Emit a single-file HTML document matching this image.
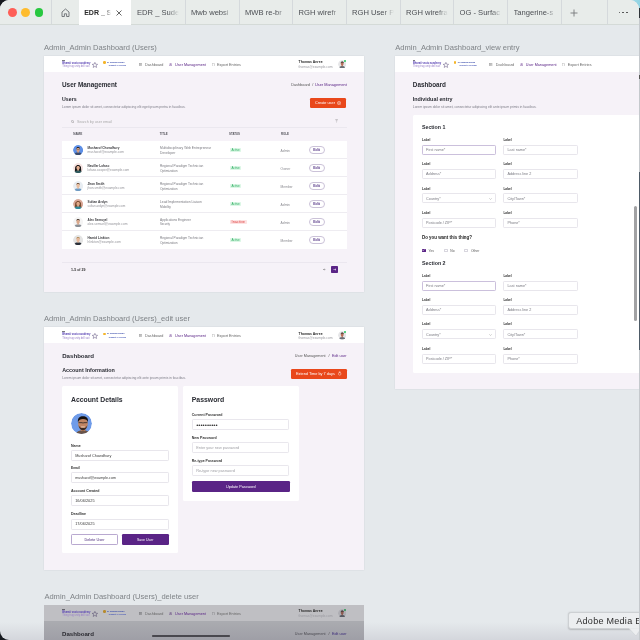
<!DOCTYPE html>
<html><head><meta charset="utf-8"><style>
html,body{margin:0;padding:0;}
body{width:640px;height:640px;overflow:hidden;background:#c5c9cd;position:relative;font-family:"Liberation Sans",sans-serif;}
.bk{position:absolute;}
#w{position:absolute;left:0;top:0;width:639px;height:640px;border-radius:9px 9px 0 9px;background:#e5e9ec;overflow:hidden;will-change:transform;filter:blur(0.3px);}
#w>div,#w>svg,#w>span{position:absolute;}
.t{white-space:pre;line-height:1;}
</style></head><body>
<div class="bk" style="left:0;top:0;width:14px;height:14px;background:#161a1f"></div>
<div class="bk" style="left:0;top:626px;width:14px;height:14px;background:#161a1f"></div>
<div class="bk" style="left:624px;top:0;width:16px;height:10px;background:linear-gradient(90deg,#b9dfe6,#8fd3e3)"></div>
<div class="bk" style="left:639px;top:8px;width:1px;height:10px;background:#2e3338"></div>
<div class="bk" style="left:639px;top:172px;width:1px;height:178px;background:#4d5a66"></div>
<div class="bk" style="left:639px;top:75px;width:1px;height:4px;background:#555"></div>
<div id="w">
<div style="left:0.00px;top:0.00px;width:640.00px;height:24.00px;background:#e8ecea;border-radius:0px;"></div>
<div style="left:0.00px;top:24.00px;width:640.00px;height:0.80px;background:#d4dad7;border-radius:0px;"></div>
<div style="left:8.25px;top:8.25px;width:8.50px;height:8.50px;background:#fe5f57;border-radius:5px;"></div>
<div style="left:21.35px;top:8.25px;width:8.50px;height:8.50px;background:#febc2e;border-radius:5px;"></div>
<div style="left:34.75px;top:8.25px;width:8.50px;height:8.50px;background:#28c840;border-radius:5px;"></div>
<div style="left:51.10px;top:0.00px;width:0.80px;height:24.00px;background:#d5d9dc;border-radius:0px;"></div>
<div style="left:184.60px;top:0.00px;width:0.80px;height:24.00px;background:#d5d9dc;border-radius:0px;"></div>
<div style="left:239.10px;top:0.00px;width:0.80px;height:24.00px;background:#d5d9dc;border-radius:0px;"></div>
<div style="left:292.10px;top:0.00px;width:0.80px;height:24.00px;background:#d5d9dc;border-radius:0px;"></div>
<div style="left:345.60px;top:0.00px;width:0.80px;height:24.00px;background:#d5d9dc;border-radius:0px;"></div>
<div style="left:400.10px;top:0.00px;width:0.80px;height:24.00px;background:#d5d9dc;border-radius:0px;"></div>
<div style="left:453.35px;top:0.00px;width:0.80px;height:24.00px;background:#d5d9dc;border-radius:0px;"></div>
<div style="left:507.10px;top:0.00px;width:0.80px;height:24.00px;background:#d5d9dc;border-radius:0px;"></div>
<div style="left:560.60px;top:0.00px;width:0.80px;height:24.00px;background:#d5d9dc;border-radius:0px;"></div>
<div style="left:607.10px;top:0.00px;width:0.80px;height:24.00px;background:#d5d9dc;border-radius:0px;"></div>
<div style="left:79.00px;top:0.00px;width:52.00px;height:24.80px;background:#ffffff;border-radius:0px;"></div>
<svg style="left:60.50px;top:8.00px" width="9" height="9" viewBox="0 0 9 9"><path d="M1 8.5V4L4.5 1 8 4v4.5H5.6V5.8H3.4v2.7z" fill="none" stroke="#6a6e73" stroke-width="0.9" stroke-linejoin="round"/></svg>
<svg style="left:115.50px;top:9.70px" width="6" height="6" viewBox="0 0 6 6"><path d="M0.5 0.5l5 5M5.5 0.5l-5 5" stroke="#555" stroke-width="0.9"/></svg>
<svg style="left:570.00px;top:8.50px" width="8" height="8" viewBox="0 0 8 8"><path d="M4 0.5v7M0.5 4h7" stroke="#77797c" stroke-width="0.9"/></svg>
<div style="left:618.60px;top:11.60px;width:1.80px;height:1.80px;background:#444;border-radius:1px;"></div>
<div style="left:622.40px;top:11.60px;width:1.80px;height:1.80px;background:#444;border-radius:1px;"></div>
<div style="left:626.20px;top:11.60px;width:1.80px;height:1.80px;background:#444;border-radius:1px;"></div>
<div style="left:44.00px;top:56.00px;width:320.00px;height:236.30px;background:#f6f2f8;border-radius:0px;box-shadow:0 0 1.5px rgba(60,60,80,0.12);"></div>
<div style="left:44.00px;top:56.00px;width:320.00px;height:16.00px;background:#ffffff;border-radius:0px;"></div>
<div style="left:62.20px;top:59.90px;width:2.40px;height:0.35px;background:#7a7a80;border-radius:0px;"></div>
<svg style="left:92.20px;top:62.00px" width="5.8" height="5.6" viewBox="0 0 5.8 5.6"><path d="M2.9 0.4l0.8 1.8 1.9 0.15-1.45 1.25 0.45 1.85-1.7-1.05-1.7 1.05 0.45-1.85-1.45-1.25 1.9-0.15z" fill="none" stroke="#5a4a7a" stroke-width="0.5"/></svg>
<div style="left:103.00px;top:61.30px;width:2.50px;height:2.50px;background:#f4b52a;border-radius:1.2px;"></div>
<svg style="left:138.70px;top:62.80px" width="3.2" height="3.2" viewBox="0 0 3.2 3.2"><rect x="0.2" y="0.2" width="2.8" height="2.8" fill="none" stroke="#777" stroke-width="0.35"/><path d="M0.2 1.6h2.8M1.6 0.2v2.8" stroke="#777" stroke-width="0.3"/></svg>
<svg style="left:169.20px;top:62.60px" width="3.2" height="3.6" viewBox="0 0 3.2 3.6"><circle cx="1.6" cy="1.1" r="0.85" fill="none" stroke="#5a2486" stroke-width="0.4"/><path d="M0.2 3.5c0-1 0.6-1.5 1.4-1.5s1.4 0.5 1.4 1.5z" fill="none" stroke="#5a2486" stroke-width="0.4"/></svg>
<svg style="left:211.60px;top:62.60px" width="3" height="3.6" viewBox="0 0 3 3.6"><path d="M0.2 0.2h1.8l0.8 0.8v2.4H0.2z" fill="none" stroke="#777" stroke-width="0.35"/></svg>
<svg style="left:337.90px;top:60.10px" width="8.4" height="8.4" viewBox="0 0 100 100"><clipPath id="c30"><circle cx="50" cy="50" r="50"/></clipPath><g clip-path="url(#c30)"><circle cx="50" cy="50" r="50" fill="#e6e6e8"/><path d="M12 104C12 80 30 72 50 72S88 80 88 104z" fill="#6a6f76"/><rect x="42" y="56" width="16" height="18" fill="#b8705a"/><ellipse cx="50" cy="46" rx="17" ry="21" fill="#b8705a"/><path d="M32 42C30 22 44 18 52 19S72 24 68 42C66 32 60 30 50 30S36 32 32 42z" fill="#2a1e1a"/></g></svg>
<div style="left:344.40px;top:59.50px;width:2.10px;height:2.10px;background:#22c55e;border-radius:1.2px;"></div>
<div style="left:309.80px;top:97.50px;width:36.70px;height:10.30px;background:#e9481b;border-radius:1.2px;"></div>
<svg style="left:337.00px;top:100.60px" width="4.2" height="4.2" viewBox="0 0 4.2 4.2"><circle cx="2.1" cy="2.1" r="1.7" fill="none" stroke="#fff" stroke-width="0.45"/><path d="M2.1 1.2v1.8M1.2 2.1h1.8" stroke="#fff" stroke-width="0.4"/></svg>
<svg style="left:70.80px;top:119.60px" width="3.4" height="3.4" viewBox="0 0 3.4 3.4"><circle cx="1.4" cy="1.4" r="1.05" fill="none" stroke="#777" stroke-width="0.4"/><path d="M2.2 2.2l0.9 0.9" stroke="#777" stroke-width="0.4"/></svg>
<svg style="left:334.50px;top:119.20px" width="3.2" height="3.6" viewBox="0 0 3.2 3.6"><path d="M0.3 0.4h2.6M0.8 1.7h1.6M1.2 3h0.8" stroke="#777" stroke-width="0.4"/></svg>
<div style="left:62.00px;top:126.90px;width:284.50px;height:0.50px;background:#ebe8ef;border-radius:0px;"></div>
<div style="left:62.00px;top:141.20px;width:284.50px;height:107.80px;background:#ffffff;border-radius:0px;"></div>
<svg style="left:72.90px;top:144.80px" width="10.2" height="10.2" viewBox="0 0 100 100"><clipPath id="c38"><circle cx="50" cy="50" r="50"/></clipPath><g clip-path="url(#c38)"><circle cx="50" cy="50" r="50" fill="#5d8fe6"/><path d="M12 104C12 80 30 72 50 72S88 80 88 104z" fill="#3b4a6a"/><rect x="42" y="56" width="16" height="18" fill="#d9a07f"/><ellipse cx="50" cy="46" rx="17" ry="21" fill="#d9a07f"/><path d="M32 42C30 22 44 18 52 19S72 24 68 42C66 32 60 30 50 30S36 32 32 42z" fill="#1f1a1a"/><path d="M35 44h12M53 44h12M47 45h6" stroke="#222" stroke-width="3" fill="none"/></g></svg>
<div style="left:229.70px;top:147.80px;width:11.60px;height:4.30px;background:#dcf7e6;border-radius:0.8px;"></div>
<div style="left:308.70px;top:146.10px;width:15.90px;height:7.60px;background:#fff;border-radius:4px;border:0.6px solid #cbc2d8;box-sizing:border-box;"></div>
<div style="left:62.00px;top:158.20px;width:284.50px;height:0.50px;background:#eeecf1;border-radius:0px;"></div>
<svg style="left:72.90px;top:162.80px" width="10.2" height="10.2" viewBox="0 0 100 100"><clipPath id="c42"><circle cx="50" cy="50" r="50"/></clipPath><g clip-path="url(#c42)"><circle cx="50" cy="50" r="50" fill="#f6e4e2"/><path d="M22 40C22 18 78 18 78 40L82 86H18z" fill="#161212"/><path d="M12 104C12 80 30 72 50 72S88 80 88 104z" fill="#2f5a5e"/><rect x="42" y="56" width="16" height="18" fill="#e2ad8f"/><ellipse cx="50" cy="46" rx="17" ry="21" fill="#e2ad8f"/><path d="M32 42C30 22 44 18 52 19S72 24 68 42C66 32 60 30 50 30S36 32 32 42z" fill="#161212"/></g></svg>
<div style="left:229.70px;top:165.80px;width:11.60px;height:4.30px;background:#dcf7e6;border-radius:0.8px;"></div>
<div style="left:308.70px;top:164.10px;width:15.90px;height:7.60px;background:#fff;border-radius:4px;border:0.6px solid #cbc2d8;box-sizing:border-box;"></div>
<div style="left:62.00px;top:176.20px;width:284.50px;height:0.50px;background:#eeecf1;border-radius:0px;"></div>
<svg style="left:72.90px;top:180.80px" width="10.2" height="10.2" viewBox="0 0 100 100"><clipPath id="c46"><circle cx="50" cy="50" r="50"/></clipPath><g clip-path="url(#c46)"><circle cx="50" cy="50" r="50" fill="#e8edf2"/><path d="M12 104C12 80 30 72 50 72S88 80 88 104z" fill="#6f9bc4"/><rect x="42" y="56" width="16" height="18" fill="#e8bea0"/><ellipse cx="50" cy="46" rx="17" ry="21" fill="#e8bea0"/><path d="M32 42C30 22 44 18 52 19S72 24 68 42C66 32 60 30 50 30S36 32 32 42z" fill="#6a4a34"/></g></svg>
<div style="left:229.70px;top:183.80px;width:11.60px;height:4.30px;background:#dcf7e6;border-radius:0.8px;"></div>
<div style="left:308.70px;top:182.10px;width:15.90px;height:7.60px;background:#fff;border-radius:4px;border:0.6px solid #cbc2d8;box-sizing:border-box;"></div>
<div style="left:62.00px;top:194.20px;width:284.50px;height:0.50px;background:#eeecf1;border-radius:0px;"></div>
<svg style="left:72.90px;top:198.80px" width="10.2" height="10.2" viewBox="0 0 100 100"><clipPath id="c50"><circle cx="50" cy="50" r="50"/></clipPath><g clip-path="url(#c50)"><circle cx="50" cy="50" r="50" fill="#d8a898"/><path d="M22 40C22 18 78 18 78 40L82 86H18z" fill="#7a4a2e"/><path d="M12 104C12 80 30 72 50 72S88 80 88 104z" fill="#2f8a9a"/><rect x="42" y="56" width="16" height="18" fill="#e0a98a"/><ellipse cx="50" cy="46" rx="17" ry="21" fill="#e0a98a"/><path d="M32 42C30 22 44 18 52 19S72 24 68 42C66 32 60 30 50 30S36 32 32 42z" fill="#7a4a2e"/></g></svg>
<div style="left:229.70px;top:201.80px;width:11.60px;height:4.30px;background:#dcf7e6;border-radius:0.8px;"></div>
<div style="left:308.70px;top:200.10px;width:15.90px;height:7.60px;background:#fff;border-radius:4px;border:0.6px solid #cbc2d8;box-sizing:border-box;"></div>
<div style="left:62.00px;top:212.20px;width:284.50px;height:0.50px;background:#eeecf1;border-radius:0px;"></div>
<svg style="left:72.90px;top:216.80px" width="10.2" height="10.2" viewBox="0 0 100 100"><clipPath id="c54"><circle cx="50" cy="50" r="50"/></clipPath><g clip-path="url(#c54)"><circle cx="50" cy="50" r="50" fill="#f4f4f4"/><path d="M12 104C12 80 30 72 50 72S88 80 88 104z" fill="#8a8f96"/><rect x="42" y="56" width="16" height="18" fill="#d9a88c"/><ellipse cx="50" cy="46" rx="17" ry="21" fill="#d9a88c"/><path d="M32 42C30 22 44 18 52 19S72 24 68 42C66 32 60 30 50 30S36 32 32 42z" fill="#4a3a30"/></g></svg>
<div style="left:229.70px;top:219.80px;width:17.30px;height:4.30px;background:#fde2e2;border-radius:0.8px;"></div>
<div style="left:308.70px;top:218.10px;width:15.90px;height:7.60px;background:#fff;border-radius:4px;border:0.6px solid #cbc2d8;box-sizing:border-box;"></div>
<div style="left:62.00px;top:230.20px;width:284.50px;height:0.50px;background:#eeecf1;border-radius:0px;"></div>
<svg style="left:72.90px;top:234.80px" width="10.2" height="10.2" viewBox="0 0 100 100"><clipPath id="c58"><circle cx="50" cy="50" r="50"/></clipPath><g clip-path="url(#c58)"><circle cx="50" cy="50" r="50" fill="#e4e4e4"/><path d="M12 104C12 80 30 72 50 72S88 80 88 104z" fill="#2a2f38"/><rect x="42" y="56" width="16" height="18" fill="#e6b89a"/><ellipse cx="50" cy="46" rx="17" ry="21" fill="#e6b89a"/><path d="M32 42C30 22 44 18 52 19S72 24 68 42C66 32 60 30 50 30S36 32 32 42z" fill="#b08a58"/></g></svg>
<div style="left:229.70px;top:237.80px;width:11.60px;height:4.30px;background:#dcf7e6;border-radius:0.8px;"></div>
<div style="left:308.70px;top:236.10px;width:15.90px;height:7.60px;background:#fff;border-radius:4px;border:0.6px solid #cbc2d8;box-sizing:border-box;"></div>
<div style="left:62.00px;top:261.80px;width:284.50px;height:0.50px;background:#ebe7ef;border-radius:0px;"></div>
<svg style="left:323.30px;top:267.60px" width="3" height="3" viewBox="0 0 3 3"><path d="M2.4 1.5H0.6M1.4 0.7l-0.8 0.8 0.8 0.8" fill="none" stroke="#555" stroke-width="0.45"/></svg>
<div style="left:331.00px;top:266.00px;width:6.70px;height:6.50px;background:#5a2486;border-radius:0.8px;"></div>
<svg style="left:332.50px;top:267.70px" width="3.6" height="3" viewBox="0 0 3.6 3"><path d="M0.4 1.5h2.6M2 0.6l1 0.9-1 0.9" fill="none" stroke="#fff" stroke-width="0.5"/></svg>
<div style="left:394.70px;top:56.00px;width:320.00px;height:333.20px;background:#f6f2f8;border-radius:0px;box-shadow:0 0 1.5px rgba(60,60,80,0.12);"></div>
<div style="left:394.70px;top:56.00px;width:320.00px;height:16.00px;background:#ffffff;border-radius:0px;"></div>
<div style="left:412.90px;top:59.90px;width:2.40px;height:0.35px;background:#7a7a80;border-radius:0px;"></div>
<svg style="left:442.90px;top:62.00px" width="5.8" height="5.6" viewBox="0 0 5.8 5.6"><path d="M2.9 0.4l0.8 1.8 1.9 0.15-1.45 1.25 0.45 1.85-1.7-1.05-1.7 1.05 0.45-1.85-1.45-1.25 1.9-0.15z" fill="none" stroke="#5a4a7a" stroke-width="0.5"/></svg>
<div style="left:453.70px;top:61.30px;width:2.50px;height:2.50px;background:#f4b52a;border-radius:1.2px;"></div>
<svg style="left:489.40px;top:62.80px" width="3.2" height="3.2" viewBox="0 0 3.2 3.2"><rect x="0.2" y="0.2" width="2.8" height="2.8" fill="none" stroke="#777" stroke-width="0.35"/><path d="M0.2 1.6h2.8M1.6 0.2v2.8" stroke="#777" stroke-width="0.3"/></svg>
<svg style="left:519.90px;top:62.60px" width="3.2" height="3.6" viewBox="0 0 3.2 3.6"><circle cx="1.6" cy="1.1" r="0.85" fill="none" stroke="#5a2486" stroke-width="0.4"/><path d="M0.2 3.5c0-1 0.6-1.5 1.4-1.5s1.4 0.5 1.4 1.5z" fill="none" stroke="#5a2486" stroke-width="0.4"/></svg>
<svg style="left:562.30px;top:62.60px" width="3" height="3.6" viewBox="0 0 3 3.6"><path d="M0.2 0.2h1.8l0.8 0.8v2.4H0.2z" fill="none" stroke="#777" stroke-width="0.35"/></svg>
<svg style="left:688.60px;top:60.10px" width="8.4" height="8.4" viewBox="0 0 100 100"><clipPath id="c73"><circle cx="50" cy="50" r="50"/></clipPath><g clip-path="url(#c73)"><circle cx="50" cy="50" r="50" fill="#e6e6e8"/><path d="M12 104C12 80 30 72 50 72S88 80 88 104z" fill="#6a6f76"/><rect x="42" y="56" width="16" height="18" fill="#b8705a"/><ellipse cx="50" cy="46" rx="17" ry="21" fill="#b8705a"/><path d="M32 42C30 22 44 18 52 19S72 24 68 42C66 32 60 30 50 30S36 32 32 42z" fill="#2a1e1a"/></g></svg>
<div style="left:695.10px;top:59.50px;width:2.10px;height:2.10px;background:#22c55e;border-radius:1.2px;"></div>
<div style="left:412.80px;top:115.00px;width:300.00px;height:257.80px;background:#ffffff;border-radius:1.5px;"></div>
<div style="left:421.70px;top:144.50px;width:74.80px;height:10.10px;background:#fff;border-radius:1.2px;border:0.7px solid #cbc0dc;box-sizing:border-box;"></div>
<div style="left:503.10px;top:144.50px;width:74.80px;height:10.10px;background:#fff;border-radius:1.2px;border:0.5px solid #e8e6ec;box-sizing:border-box;"></div>
<div style="left:421.70px;top:168.95px;width:74.80px;height:10.10px;background:#fff;border-radius:1.2px;border:0.5px solid #e8e6ec;box-sizing:border-box;"></div>
<div style="left:503.10px;top:168.95px;width:74.80px;height:10.10px;background:#fff;border-radius:1.2px;border:0.5px solid #e8e6ec;box-sizing:border-box;"></div>
<div style="left:421.70px;top:193.40px;width:74.80px;height:10.10px;background:#fff;border-radius:1.2px;border:0.5px solid #e8e6ec;box-sizing:border-box;"></div>
<svg style="left:489.20px;top:197.60px" width="3" height="2" viewBox="0 0 3 2"><path d="M0.3 0.3l1.2 1.2 1.2-1.2" fill="none" stroke="#888" stroke-width="0.4"/></svg>
<div style="left:503.10px;top:193.40px;width:74.80px;height:10.10px;background:#fff;border-radius:1.2px;border:0.5px solid #e8e6ec;box-sizing:border-box;"></div>
<div style="left:421.70px;top:217.85px;width:74.80px;height:10.10px;background:#fff;border-radius:1.2px;border:0.5px solid #e8e6ec;box-sizing:border-box;"></div>
<div style="left:503.10px;top:217.85px;width:74.80px;height:10.10px;background:#fff;border-radius:1.2px;border:0.5px solid #e8e6ec;box-sizing:border-box;"></div>
<div style="left:421.90px;top:248.50px;width:3.70px;height:3.75px;background:#5a2486;border-radius:0.6px;"></div>
<svg style="left:422.40px;top:249.20px" width="2.8" height="2.4" viewBox="0 0 2.8 2.4"><path d="M0.4 1.2l0.8 0.8 1.3-1.6" fill="none" stroke="#fff" stroke-width="0.45"/></svg>
<div style="left:443.60px;top:248.50px;width:4.00px;height:3.90px;background:#fff;border-radius:0.6px;border:0.4px solid #d8d6de;box-sizing:border-box;"></div>
<div style="left:464.00px;top:248.50px;width:4.00px;height:3.90px;background:#fff;border-radius:0.6px;border:0.4px solid #d8d6de;box-sizing:border-box;"></div>
<div style="left:421.70px;top:280.50px;width:74.80px;height:10.10px;background:#fff;border-radius:1.2px;border:0.7px solid #cbc0dc;box-sizing:border-box;"></div>
<div style="left:503.10px;top:280.50px;width:74.80px;height:10.10px;background:#fff;border-radius:1.2px;border:0.5px solid #e8e6ec;box-sizing:border-box;"></div>
<div style="left:421.70px;top:304.95px;width:74.80px;height:10.10px;background:#fff;border-radius:1.2px;border:0.5px solid #e8e6ec;box-sizing:border-box;"></div>
<div style="left:503.10px;top:304.95px;width:74.80px;height:10.10px;background:#fff;border-radius:1.2px;border:0.5px solid #e8e6ec;box-sizing:border-box;"></div>
<div style="left:421.70px;top:329.40px;width:74.80px;height:10.10px;background:#fff;border-radius:1.2px;border:0.5px solid #e8e6ec;box-sizing:border-box;"></div>
<svg style="left:489.20px;top:333.60px" width="3" height="2" viewBox="0 0 3 2"><path d="M0.3 0.3l1.2 1.2 1.2-1.2" fill="none" stroke="#888" stroke-width="0.4"/></svg>
<div style="left:503.10px;top:329.40px;width:74.80px;height:10.10px;background:#fff;border-radius:1.2px;border:0.5px solid #e8e6ec;box-sizing:border-box;"></div>
<div style="left:421.70px;top:353.85px;width:74.80px;height:10.10px;background:#fff;border-radius:1.2px;border:0.5px solid #e8e6ec;box-sizing:border-box;"></div>
<div style="left:503.10px;top:353.85px;width:74.80px;height:10.10px;background:#fff;border-radius:1.2px;border:0.5px solid #e8e6ec;box-sizing:border-box;"></div>
<div style="left:633.80px;top:206.00px;width:3.00px;height:114.80px;background:#a2a2a4;border-radius:1.5px;"></div>
<div style="left:44.00px;top:327.30px;width:320.00px;height:242.60px;background:#f6f2f8;border-radius:0px;box-shadow:0 0 1.5px rgba(60,60,80,0.12);"></div>
<div style="left:44.00px;top:327.30px;width:320.00px;height:16.00px;background:#ffffff;border-radius:0px;"></div>
<div style="left:62.20px;top:331.20px;width:2.40px;height:0.35px;background:#7a7a80;border-radius:0px;"></div>
<svg style="left:92.20px;top:333.30px" width="5.8" height="5.6" viewBox="0 0 5.8 5.6"><path d="M2.9 0.4l0.8 1.8 1.9 0.15-1.45 1.25 0.45 1.85-1.7-1.05-1.7 1.05 0.45-1.85-1.45-1.25 1.9-0.15z" fill="none" stroke="#5a4a7a" stroke-width="0.5"/></svg>
<div style="left:103.00px;top:332.60px;width:2.50px;height:2.50px;background:#f4b52a;border-radius:1.2px;"></div>
<svg style="left:138.70px;top:334.10px" width="3.2" height="3.2" viewBox="0 0 3.2 3.2"><rect x="0.2" y="0.2" width="2.8" height="2.8" fill="none" stroke="#777" stroke-width="0.35"/><path d="M0.2 1.6h2.8M1.6 0.2v2.8" stroke="#777" stroke-width="0.3"/></svg>
<svg style="left:169.20px;top:333.90px" width="3.2" height="3.6" viewBox="0 0 3.2 3.6"><circle cx="1.6" cy="1.1" r="0.85" fill="none" stroke="#5a2486" stroke-width="0.4"/><path d="M0.2 3.5c0-1 0.6-1.5 1.4-1.5s1.4 0.5 1.4 1.5z" fill="none" stroke="#5a2486" stroke-width="0.4"/></svg>
<svg style="left:211.60px;top:333.90px" width="3" height="3.6" viewBox="0 0 3 3.6"><path d="M0.2 0.2h1.8l0.8 0.8v2.4H0.2z" fill="none" stroke="#777" stroke-width="0.35"/></svg>
<svg style="left:337.90px;top:331.40px" width="8.4" height="8.4" viewBox="0 0 100 100"><clipPath id="c107"><circle cx="50" cy="50" r="50"/></clipPath><g clip-path="url(#c107)"><circle cx="50" cy="50" r="50" fill="#e6e6e8"/><path d="M12 104C12 80 30 72 50 72S88 80 88 104z" fill="#6a6f76"/><rect x="42" y="56" width="16" height="18" fill="#b8705a"/><ellipse cx="50" cy="46" rx="17" ry="21" fill="#b8705a"/><path d="M32 42C30 22 44 18 52 19S72 24 68 42C66 32 60 30 50 30S36 32 32 42z" fill="#2a1e1a"/></g></svg>
<div style="left:344.40px;top:330.80px;width:2.10px;height:2.10px;background:#22c55e;border-radius:1.2px;"></div>
<div style="left:290.80px;top:368.60px;width:55.80px;height:10.40px;background:#e9481b;border-radius:1.2px;"></div>
<svg style="left:338.30px;top:371.30px" width="3.4" height="4.6" viewBox="0 0 3.4 4.6"><path d="M1.7 0.3v1.5M0.6 1.2h2.2" stroke="#fff" stroke-width="0.4"/><circle cx="1.7" cy="2.9" r="1.3" fill="none" stroke="#fff" stroke-width="0.4"/></svg>
<div style="left:62.00px;top:385.50px;width:115.80px;height:167.80px;background:#ffffff;border-radius:1.5px;"></div>
<svg style="left:71.00px;top:412.50px" width="21.0" height="21.0" viewBox="0 0 100 100"><clipPath id="c112"><circle cx="50" cy="50" r="50"/></clipPath><g clip-path="url(#c112)"><circle cx="50" cy="50" r="50" fill="#6f9be8"/><path d="M20 110C22 88 38 82 58 82S92 90 94 110z" fill="#6a5448"/><rect x="46" y="66" width="22" height="20" fill="#b47a58"/><ellipse cx="57" cy="50" rx="23" ry="30" fill="#c08563"/><path d="M36 58C40 78 50 82 57 82S74 78 78 58C72 70 64 72 57 72S42 70 36 58z" fill="#3a2a22"/><path d="M33 44C30 20 46 14 58 15S84 20 81 44C78 32 70 28 57 28S38 32 33 44z" fill="#15110f"/><path d="M36 46h17M61 46h17M53 47h8" stroke="#1a1a1a" stroke-width="3.5" fill="none"/><path d="M48 66h18" stroke="#f0e6dc" stroke-width="3"/></g></svg>
<div style="left:71.00px;top:449.80px;width:97.50px;height:11.00px;background:#fff;border-radius:1.2px;border:0.5px solid #e8e6ec;box-sizing:border-box;"></div>
<div style="left:71.00px;top:472.30px;width:97.50px;height:11.00px;background:#fff;border-radius:1.2px;border:0.5px solid #e8e6ec;box-sizing:border-box;"></div>
<div style="left:71.00px;top:495.30px;width:97.50px;height:11.00px;background:#fff;border-radius:1.2px;border:0.5px solid #e8e6ec;box-sizing:border-box;"></div>
<div style="left:71.00px;top:518.50px;width:97.50px;height:11.00px;background:#fff;border-radius:1.2px;border:0.5px solid #e8e6ec;box-sizing:border-box;"></div>
<div style="left:70.80px;top:534.30px;width:47.00px;height:10.70px;background:#fff;border-radius:1.2px;border:0.6px solid #b9a9d0;box-sizing:border-box;"></div>
<div style="left:122.00px;top:534.30px;width:46.50px;height:10.70px;background:#5a2486;border-radius:1.2px;"></div>
<div style="left:183.00px;top:385.50px;width:115.80px;height:115.10px;background:#ffffff;border-radius:1.5px;"></div>
<div style="left:191.80px;top:419.20px;width:97.60px;height:10.60px;background:#fff;border-radius:1.2px;border:0.5px solid #e9e7ed;box-sizing:border-box;"></div>
<div style="left:191.80px;top:442.20px;width:97.60px;height:10.60px;background:#fff;border-radius:1.2px;border:0.5px solid #e9e7ed;box-sizing:border-box;"></div>
<div style="left:191.80px;top:465.30px;width:97.60px;height:10.60px;background:#fff;border-radius:1.2px;border:0.5px solid #e9e7ed;box-sizing:border-box;"></div>
<div style="left:191.90px;top:481.00px;width:97.80px;height:10.90px;background:#5a2486;border-radius:1.2px;"></div>
<div style="left:44.00px;top:605.00px;width:320.00px;height:40.00px;background:#aaabb0;border-radius:0px;"></div>
<div style="left:44.00px;top:605.00px;width:320.00px;height:16.30px;background:#b6b6ba;border-radius:0px;"></div>
<div style="left:44.00px;top:605.00px;width:320.00px;height:16.00px;background:#ffffff;border-radius:0px;"></div>
<div style="left:62.20px;top:608.90px;width:2.40px;height:0.35px;background:#7a7a80;border-radius:0px;"></div>
<svg style="left:92.20px;top:611.00px" width="5.8" height="5.6" viewBox="0 0 5.8 5.6"><path d="M2.9 0.4l0.8 1.8 1.9 0.15-1.45 1.25 0.45 1.85-1.7-1.05-1.7 1.05 0.45-1.85-1.45-1.25 1.9-0.15z" fill="none" stroke="#5a4a7a" stroke-width="0.5"/></svg>
<div style="left:103.00px;top:610.30px;width:2.50px;height:2.50px;background:#f4b52a;border-radius:1.2px;"></div>
<svg style="left:138.70px;top:611.80px" width="3.2" height="3.2" viewBox="0 0 3.2 3.2"><rect x="0.2" y="0.2" width="2.8" height="2.8" fill="none" stroke="#777" stroke-width="0.35"/><path d="M0.2 1.6h2.8M1.6 0.2v2.8" stroke="#777" stroke-width="0.3"/></svg>
<svg style="left:169.20px;top:611.60px" width="3.2" height="3.6" viewBox="0 0 3.2 3.6"><circle cx="1.6" cy="1.1" r="0.85" fill="none" stroke="#5a2486" stroke-width="0.4"/><path d="M0.2 3.5c0-1 0.6-1.5 1.4-1.5s1.4 0.5 1.4 1.5z" fill="none" stroke="#5a2486" stroke-width="0.4"/></svg>
<svg style="left:211.60px;top:611.60px" width="3" height="3.6" viewBox="0 0 3 3.6"><path d="M0.2 0.2h1.8l0.8 0.8v2.4H0.2z" fill="none" stroke="#777" stroke-width="0.35"/></svg>
<svg style="left:337.90px;top:609.10px" width="8.4" height="8.4" viewBox="0 0 100 100"><clipPath id="c133"><circle cx="50" cy="50" r="50"/></clipPath><g clip-path="url(#c133)"><circle cx="50" cy="50" r="50" fill="#e6e6e8"/><path d="M12 104C12 80 30 72 50 72S88 80 88 104z" fill="#6a6f76"/><rect x="42" y="56" width="16" height="18" fill="#b8705a"/><ellipse cx="50" cy="46" rx="17" ry="21" fill="#b8705a"/><path d="M32 42C30 22 44 18 52 19S72 24 68 42C66 32 60 30 50 30S36 32 32 42z" fill="#2a1e1a"/></g></svg>
<div style="left:344.40px;top:608.50px;width:2.10px;height:2.10px;background:#22c55e;border-radius:1.2px;"></div>
<div style="left:44.00px;top:605.00px;width:320.00px;height:16.00px;background:rgba(42,44,56,0.30);border-radius:0px;"></div>
<div style="left:152.00px;top:635.30px;width:78.00px;height:1.60px;background:#4a4a4e;border-radius:0.8px;"></div>
<div style="left:0.00px;top:622.00px;width:640.00px;height:18.00px;background:linear-gradient(rgba(60,50,80,0),rgba(60,50,80,0.10));border-radius:0px;"></div>
<div style="left:568.00px;top:611.80px;width:80.00px;height:16.80px;background:#eceef0;border-radius:3px;border:0.6px solid #cdd0d3;box-sizing:border-box;box-shadow:0 0.5px 1.5px rgba(0,0,0,0.18);"></div>
<svg style="left:629.00px;top:627.90px" width="12" height="9" viewBox="0 0 12 9"><path d="M0 0.5L7 8 12 0.5" fill="#eceef0" stroke="#cdd0d3" stroke-width="0.6"/><path d="M0.5 0.2h11.5" stroke="#eceef0" stroke-width="1"/></svg>
<span class="t" style="left:84.20px;top:9px;font-size:7.000px;font-weight:700;color:#2b2b2b;width:27px;height:10px;overflow:hidden;-webkit-mask-image:linear-gradient(90deg,#000 78%,transparent 100%);">EDR _ Sudeep</span>
<span class="t" style="left:137.00px;top:9px;font-size:7.600px;font-weight:400;color:#4c4f54;width:42px;height:10px;overflow:hidden;-webkit-mask-image:linear-gradient(90deg,#000 75%,transparent 100%);">EDR _ Sude</span>
<span class="t" style="left:191.00px;top:9px;font-size:7.600px;font-weight:400;color:#4c4f54;width:42px;height:10px;overflow:hidden;-webkit-mask-image:linear-gradient(90deg,#000 75%,transparent 100%);">Mwb websi</span>
<span class="t" style="left:245.00px;top:9px;font-size:7.600px;font-weight:400;color:#4c4f54;width:42px;height:10px;overflow:hidden;-webkit-mask-image:linear-gradient(90deg,#000 75%,transparent 100%);">MWB re-br</span>
<span class="t" style="left:298.50px;top:9px;font-size:7.600px;font-weight:400;color:#4c4f54;width:42px;height:10px;overflow:hidden;-webkit-mask-image:linear-gradient(90deg,#000 75%,transparent 100%);">RGH wirefr</span>
<span class="t" style="left:352.00px;top:9px;font-size:7.600px;font-weight:400;color:#4c4f54;width:42px;height:10px;overflow:hidden;-webkit-mask-image:linear-gradient(90deg,#000 75%,transparent 100%);">RGH User P</span>
<span class="t" style="left:406.00px;top:9px;font-size:7.600px;font-weight:400;color:#4c4f54;width:42px;height:10px;overflow:hidden;-webkit-mask-image:linear-gradient(90deg,#000 75%,transparent 100%);">RGH wirefra</span>
<span class="t" style="left:459.50px;top:9px;font-size:7.600px;font-weight:400;color:#4c4f54;width:42px;height:10px;overflow:hidden;-webkit-mask-image:linear-gradient(90deg,#000 75%,transparent 100%);">OG - Surfac</span>
<span class="t" style="left:513.50px;top:9px;font-size:7.600px;font-weight:400;color:#4c4f54;width:42px;height:10px;overflow:hidden;-webkit-mask-image:linear-gradient(90deg,#000 75%,transparent 100%);">Tangerine-s</span>
<span class="t" style="left:44.00px;top:44px;font-size:7.560px;font-weight:400;color:#7f8387;">Admin_Admin Dashboard (Users)</span>
<span class="t" style="left:62.20px;top:63px;font-size:2.600px;font-weight:700;color:#5a44b4;">Bharati vastu academy</span>
<span class="t" style="left:62.20px;top:66px;font-size:2.585px;font-weight:400;color:#9a80c8;">Thing trug unity dell sait</span>
<span class="t" style="left:107.00px;top:62px;font-size:1.874px;font-weight:700;color:#3346a8;">Sr. Sadhana Davidu</span>
<span class="t" style="left:108.70px;top:64px;font-size:1.993px;font-weight:700;color:#4a5ab8;">Nigamit 3 Vellaiam</span>
<span class="t" style="left:145.00px;top:64px;font-size:3.761px;font-weight:400;color:#666;">Dashboard</span>
<span class="t" style="left:175.00px;top:64px;font-size:3.768px;font-weight:400;color:#5a2486;">User Management</span>
<span class="t" style="left:217.00px;top:64px;font-size:3.821px;font-weight:400;color:#666;">Export Entries</span>
<span class="t" style="left:298.60px;top:61px;font-size:3.488px;font-weight:700;color:#2a2a2a;">Thomas Anree</span>
<span class="t" style="left:298.60px;top:66px;font-size:3.320px;font-weight:400;color:#9a9aa0;">thomas@example.com</span>
<span class="t" style="left:62.00px;top:82px;font-size:6.385px;font-weight:700;color:#2a2c33;">User Management</span>
<span class="t" style="left:62.00px;top:97px;font-size:5.252px;font-weight:700;color:#2a2c33;">Users</span>
<span class="t" style="left:62.00px;top:106px;font-size:3.310px;font-weight:400;color:#7c7c86;">Lorem ipsum dolor sit amet, consectetur adipiscing elit eget ipsum pretra in faucibus.</span>
<span class="t" style="left:291.20px;top:84px;font-size:3.843px;font-weight:400;color:#555;">Dashboard</span>
<span class="t" style="left:312.30px;top:84px;font-size:3.700px;font-weight:400;color:#555;">/</span>
<span class="t" style="left:315.00px;top:84px;font-size:3.866px;font-weight:400;color:#5a2486;">User Management</span>
<span class="t" style="left:315.00px;top:102px;font-size:3.828px;font-weight:400;color:#fff;">Create user</span>
<span class="t" style="left:77.00px;top:121px;font-size:3.726px;font-weight:400;color:#aaa;">Search by user email</span>
<span class="t" style="left:73.20px;top:133px;font-size:3.057px;font-weight:700;color:#55555c;">NAME</span>
<span class="t" style="left:159.80px;top:133px;font-size:2.880px;font-weight:700;color:#55555c;">TITLE</span>
<span class="t" style="left:229.00px;top:133px;font-size:2.856px;font-weight:700;color:#55555c;">STATUS</span>
<span class="t" style="left:281.00px;top:133px;font-size:2.880px;font-weight:700;color:#55555c;">ROLE</span>
<span class="t" style="left:87.50px;top:147px;font-size:3.114px;font-weight:700;color:#3a3a3e;">Musharof Chowdhury</span>
<span class="t" style="left:87.50px;top:151px;font-size:3.297px;font-weight:400;color:#94949a;">musharof@example.com</span>
<span class="t" style="left:160.00px;top:147px;font-size:3.312px;font-weight:400;color:#7a7a80;">Multidisciplinary Web Entrepreneur</span>
<span class="t" style="left:160.00px;top:152px;font-size:3.357px;font-weight:400;color:#7a7a80;">Developer</span>
<span class="t" style="left:231.40px;top:149px;font-size:3.011px;font-weight:400;color:#2fae62;">Active</span>
<span class="t" style="left:280.60px;top:150px;font-size:3.300px;font-weight:400;color:#8a8a90;">Admin</span>
<span class="t" style="left:313.20px;top:149px;font-size:3.600px;font-weight:700;color:#5b3d8a;">Edit</span>
<span class="t" style="left:87.50px;top:165px;font-size:3.069px;font-weight:700;color:#3a3a3e;">Naviller Lofaso</span>
<span class="t" style="left:87.50px;top:169px;font-size:3.239px;font-weight:400;color:#94949a;">lofaso.cooper@example.com</span>
<span class="t" style="left:160.00px;top:165px;font-size:3.217px;font-weight:400;color:#7a7a80;">Regional Paradigm Technician</span>
<span class="t" style="left:160.00px;top:170px;font-size:3.185px;font-weight:400;color:#7a7a80;">Optimization</span>
<span class="t" style="left:231.40px;top:167px;font-size:3.011px;font-weight:400;color:#2fae62;">Active</span>
<span class="t" style="left:280.60px;top:168px;font-size:3.300px;font-weight:400;color:#8a8a90;">Owner</span>
<span class="t" style="left:313.20px;top:167px;font-size:3.600px;font-weight:700;color:#5b3d8a;">Edit</span>
<span class="t" style="left:87.50px;top:183px;font-size:3.122px;font-weight:700;color:#3a3a3e;">Jhon Smith</span>
<span class="t" style="left:87.50px;top:187px;font-size:3.212px;font-weight:400;color:#94949a;">jhon.smith@example.com</span>
<span class="t" style="left:160.00px;top:183px;font-size:3.217px;font-weight:400;color:#7a7a80;">Regional Paradigm Technician</span>
<span class="t" style="left:160.00px;top:188px;font-size:3.185px;font-weight:400;color:#7a7a80;">Optimization</span>
<span class="t" style="left:231.40px;top:185px;font-size:3.011px;font-weight:400;color:#2fae62;">Active</span>
<span class="t" style="left:280.60px;top:186px;font-size:3.300px;font-weight:400;color:#8a8a90;">Member</span>
<span class="t" style="left:313.20px;top:185px;font-size:3.600px;font-weight:700;color:#5b3d8a;">Edit</span>
<span class="t" style="left:87.50px;top:201px;font-size:3.233px;font-weight:700;color:#3a3a3e;">Sultan Ardyn</span>
<span class="t" style="left:87.50px;top:205px;font-size:3.062px;font-weight:400;color:#94949a;">sultan.ardyn@example.com</span>
<span class="t" style="left:160.00px;top:201px;font-size:3.285px;font-weight:400;color:#7a7a80;">Lead Implementation Liaison</span>
<span class="t" style="left:160.00px;top:206px;font-size:3.245px;font-weight:400;color:#7a7a80;">Mobility</span>
<span class="t" style="left:231.40px;top:203px;font-size:3.011px;font-weight:400;color:#2fae62;">Active</span>
<span class="t" style="left:280.60px;top:204px;font-size:3.300px;font-weight:400;color:#8a8a90;">Admin</span>
<span class="t" style="left:313.20px;top:203px;font-size:3.600px;font-weight:700;color:#5b3d8a;">Edit</span>
<span class="t" style="left:87.50px;top:219px;font-size:3.075px;font-weight:700;color:#3a3a3e;">Alex Semuyel</span>
<span class="t" style="left:87.50px;top:223px;font-size:3.253px;font-weight:400;color:#94949a;">alex.semuel@example.com</span>
<span class="t" style="left:160.00px;top:219px;font-size:3.205px;font-weight:400;color:#7a7a80;">Applications Engineer</span>
<span class="t" style="left:160.00px;top:224px;font-size:2.768px;font-weight:400;color:#7a7a80;">Security</span>
<span class="t" style="left:231.55px;top:220px;font-size:3.917px;font-weight:400;color:#e04848;">Inactive</span>
<span class="t" style="left:280.60px;top:222px;font-size:3.300px;font-weight:400;color:#8a8a90;">Admin</span>
<span class="t" style="left:313.20px;top:221px;font-size:3.600px;font-weight:700;color:#5b3d8a;">Edit</span>
<span class="t" style="left:87.50px;top:237px;font-size:3.168px;font-weight:700;color:#3a3a3e;">Hamid Linkton</span>
<span class="t" style="left:87.50px;top:241px;font-size:3.218px;font-weight:400;color:#94949a;">hlinkton@example.com</span>
<span class="t" style="left:160.00px;top:237px;font-size:3.217px;font-weight:400;color:#7a7a80;">Regional Paradigm Technician</span>
<span class="t" style="left:160.00px;top:242px;font-size:3.185px;font-weight:400;color:#7a7a80;">Optimization</span>
<span class="t" style="left:231.40px;top:239px;font-size:3.011px;font-weight:400;color:#2fae62;">Active</span>
<span class="t" style="left:280.60px;top:240px;font-size:3.300px;font-weight:400;color:#8a8a90;">Member</span>
<span class="t" style="left:313.20px;top:239px;font-size:3.600px;font-weight:700;color:#5b3d8a;">Edit</span>
<span class="t" style="left:71.00px;top:269px;font-size:3.574px;font-weight:700;color:#333;">1-5 of 29</span>
<span class="t" style="left:395.30px;top:44px;font-size:7.560px;font-weight:400;color:#7f8387;">Admin_Admin Dashboard_view entry</span>
<span class="t" style="left:412.90px;top:63px;font-size:2.600px;font-weight:700;color:#5a44b4;">Bharati vastu academy</span>
<span class="t" style="left:412.90px;top:66px;font-size:2.585px;font-weight:400;color:#9a80c8;">Thing trug unity dell sait</span>
<span class="t" style="left:457.70px;top:62px;font-size:1.874px;font-weight:700;color:#3346a8;">Sr. Sadhana Davidu</span>
<span class="t" style="left:459.40px;top:64px;font-size:1.993px;font-weight:700;color:#4a5ab8;">Nigamit 3 Vellaiam</span>
<span class="t" style="left:495.70px;top:64px;font-size:3.761px;font-weight:400;color:#666;">Dashboard</span>
<span class="t" style="left:525.70px;top:64px;font-size:3.768px;font-weight:400;color:#5a2486;">User Management</span>
<span class="t" style="left:567.70px;top:64px;font-size:3.821px;font-weight:400;color:#666;">Export Entries</span>
<span class="t" style="left:649.30px;top:61px;font-size:3.488px;font-weight:700;color:#2a2a2a;">Thomas Anree</span>
<span class="t" style="left:649.30px;top:66px;font-size:3.320px;font-weight:400;color:#9a9aa0;">thomas@example.com</span>
<span class="t" style="left:412.80px;top:82px;font-size:6.356px;font-weight:700;color:#2a2c33;">Dashboard</span>
<span class="t" style="left:412.80px;top:97px;font-size:5.399px;font-weight:700;color:#2a2c33;">Individual entry</span>
<span class="t" style="left:412.80px;top:106px;font-size:3.305px;font-weight:400;color:#7c7c86;">Lorem ipsum dolor sit amet, consectetur adipiscing elit ante ipsum primis in faucibus.</span>
<span class="t" style="left:422.00px;top:125px;font-size:5.263px;font-weight:700;color:#2a2c33;">Section 1</span>
<span class="t" style="left:422.00px;top:139px;font-size:3.216px;font-weight:700;color:#333;">Label</span>
<span class="t" style="left:426.10px;top:149px;font-size:3.750px;font-weight:400;color:#7a7a82;">First name*</span>
<span class="t" style="left:503.40px;top:139px;font-size:3.216px;font-weight:700;color:#333;">Label</span>
<span class="t" style="left:507.50px;top:149px;font-size:3.750px;font-weight:400;color:#7a7a82;">Last name*</span>
<span class="t" style="left:422.00px;top:163px;font-size:3.216px;font-weight:700;color:#333;">Label</span>
<span class="t" style="left:426.10px;top:173px;font-size:3.750px;font-weight:400;color:#7a7a82;">Address*</span>
<span class="t" style="left:503.40px;top:163px;font-size:3.216px;font-weight:700;color:#333;">Label</span>
<span class="t" style="left:507.50px;top:173px;font-size:3.750px;font-weight:400;color:#7a7a82;">Address line 2</span>
<span class="t" style="left:422.00px;top:188px;font-size:3.216px;font-weight:700;color:#333;">Label</span>
<span class="t" style="left:426.10px;top:198px;font-size:3.750px;font-weight:400;color:#7a7a82;">Country*</span>
<span class="t" style="left:503.40px;top:188px;font-size:3.216px;font-weight:700;color:#333;">Label</span>
<span class="t" style="left:507.50px;top:198px;font-size:3.750px;font-weight:400;color:#7a7a82;">City/Town*</span>
<span class="t" style="left:422.00px;top:212px;font-size:3.216px;font-weight:700;color:#333;">Label</span>
<span class="t" style="left:426.10px;top:222px;font-size:3.750px;font-weight:400;color:#7a7a82;">Postcode / ZIP*</span>
<span class="t" style="left:503.40px;top:212px;font-size:3.216px;font-weight:700;color:#333;">Label</span>
<span class="t" style="left:507.50px;top:222px;font-size:3.750px;font-weight:400;color:#7a7a82;">Phone*</span>
<span class="t" style="left:422.00px;top:236px;font-size:4.412px;font-weight:700;color:#222;">Do you want this thing?</span>
<span class="t" style="left:428.50px;top:250px;font-size:3.300px;font-weight:400;color:#555;">Yes</span>
<span class="t" style="left:450.30px;top:250px;font-size:3.300px;font-weight:400;color:#555;">No</span>
<span class="t" style="left:471.00px;top:250px;font-size:3.300px;font-weight:400;color:#555;">Other</span>
<span class="t" style="left:422.00px;top:261px;font-size:5.308px;font-weight:700;color:#2a2c33;">Section 2</span>
<span class="t" style="left:422.00px;top:275px;font-size:3.216px;font-weight:700;color:#333;">Label</span>
<span class="t" style="left:426.10px;top:285px;font-size:3.750px;font-weight:400;color:#7a7a82;">First name*</span>
<span class="t" style="left:503.40px;top:275px;font-size:3.216px;font-weight:700;color:#333;">Label</span>
<span class="t" style="left:507.50px;top:285px;font-size:3.750px;font-weight:400;color:#7a7a82;">Last name*</span>
<span class="t" style="left:422.00px;top:299px;font-size:3.216px;font-weight:700;color:#333;">Label</span>
<span class="t" style="left:426.10px;top:309px;font-size:3.750px;font-weight:400;color:#7a7a82;">Address*</span>
<span class="t" style="left:503.40px;top:299px;font-size:3.216px;font-weight:700;color:#333;">Label</span>
<span class="t" style="left:507.50px;top:309px;font-size:3.750px;font-weight:400;color:#7a7a82;">Address line 2</span>
<span class="t" style="left:422.00px;top:323px;font-size:3.216px;font-weight:700;color:#333;">Label</span>
<span class="t" style="left:426.10px;top:334px;font-size:3.750px;font-weight:400;color:#7a7a82;">Country*</span>
<span class="t" style="left:503.40px;top:323px;font-size:3.216px;font-weight:700;color:#333;">Label</span>
<span class="t" style="left:507.50px;top:334px;font-size:3.750px;font-weight:400;color:#7a7a82;">City/Town*</span>
<span class="t" style="left:422.00px;top:348px;font-size:3.216px;font-weight:700;color:#333;">Label</span>
<span class="t" style="left:426.10px;top:358px;font-size:3.750px;font-weight:400;color:#7a7a82;">Postcode / ZIP*</span>
<span class="t" style="left:503.40px;top:348px;font-size:3.216px;font-weight:700;color:#333;">Label</span>
<span class="t" style="left:507.50px;top:358px;font-size:3.750px;font-weight:400;color:#7a7a82;">Phone*</span>
<span class="t" style="left:44.00px;top:315px;font-size:7.560px;font-weight:400;color:#7f8387;">Admin_Admin Dashboard (Users)_edit user</span>
<span class="t" style="left:62.20px;top:334px;font-size:2.600px;font-weight:700;color:#5a44b4;">Bharati vastu academy</span>
<span class="t" style="left:62.20px;top:338px;font-size:2.585px;font-weight:400;color:#9a80c8;">Thing trug unity dell sait</span>
<span class="t" style="left:107.00px;top:333px;font-size:1.874px;font-weight:700;color:#3346a8;">Sr. Sadhana Davidu</span>
<span class="t" style="left:108.70px;top:336px;font-size:1.993px;font-weight:700;color:#4a5ab8;">Nigamit 3 Vellaiam</span>
<span class="t" style="left:145.00px;top:335px;font-size:3.761px;font-weight:400;color:#666;">Dashboard</span>
<span class="t" style="left:175.00px;top:335px;font-size:3.768px;font-weight:400;color:#5a2486;">User Management</span>
<span class="t" style="left:217.00px;top:335px;font-size:3.821px;font-weight:400;color:#666;">Export Entries</span>
<span class="t" style="left:298.60px;top:333px;font-size:3.488px;font-weight:700;color:#2a2a2a;">Thomas Anree</span>
<span class="t" style="left:298.60px;top:337px;font-size:3.320px;font-weight:400;color:#9a9aa0;">thomas@example.com</span>
<span class="t" style="left:62.20px;top:353px;font-size:6.126px;font-weight:700;color:#2a2c33;">Dashboard</span>
<span class="t" style="left:62.20px;top:368px;font-size:5.380px;font-weight:700;color:#2a2c33;">Account Information</span>
<span class="t" style="left:62.20px;top:377px;font-size:3.305px;font-weight:400;color:#7c7c86;">Lorem ipsum dolor sit amet, consectetur adipiscing elit ante ipsum primis in faucibus.</span>
<span class="t" style="left:294.80px;top:355px;font-size:3.768px;font-weight:400;color:#555;">User Management</span>
<span class="t" style="left:328.60px;top:355px;font-size:3.700px;font-weight:400;color:#555;">/</span>
<span class="t" style="left:332.00px;top:355px;font-size:3.700px;font-weight:400;color:#5a2486;">Edit user</span>
<span class="t" style="left:296.00px;top:373px;font-size:3.855px;font-weight:400;color:#fff;">Extend Time by 7 days</span>
<span class="t" style="left:71.00px;top:397px;font-size:6.841px;font-weight:700;color:#2a2c33;">Account Details</span>
<span class="t" style="left:71.00px;top:445px;font-size:3.598px;font-weight:700;color:#333;">Name</span>
<span class="t" style="left:75.20px;top:455px;font-size:3.819px;font-weight:400;color:#3a3a3a;">Musharof Chowdhury</span>
<span class="t" style="left:71.00px;top:467px;font-size:3.298px;font-weight:700;color:#333;">Email</span>
<span class="t" style="left:75.20px;top:477px;font-size:3.684px;font-weight:400;color:#3a3a3a;">musharof@example.com</span>
<span class="t" style="left:71.00px;top:490px;font-size:3.562px;font-weight:700;color:#333;">Account Created</span>
<span class="t" style="left:75.20px;top:499px;font-size:3.896px;font-weight:400;color:#3a3a3a;">16/06/2025</span>
<span class="t" style="left:71.00px;top:513px;font-size:3.599px;font-weight:700;color:#333;">Deadline</span>
<span class="t" style="left:75.20px;top:522px;font-size:3.896px;font-weight:400;color:#3a3a3a;">17/06/2025</span>
<span class="t" style="left:84.50px;top:539px;font-size:3.788px;font-weight:400;color:#4a2a7a;">Delete User</span>
<span class="t" style="left:137.00px;top:539px;font-size:3.534px;font-weight:400;color:#fff;">Save User</span>
<span class="t" style="left:191.80px;top:397px;font-size:6.879px;font-weight:700;color:#2a2c33;">Password</span>
<span class="t" style="left:191.80px;top:414px;font-size:3.564px;font-weight:700;color:#333;">Current Password</span>
<span class="t" style="left:196.20px;top:422px;font-size:6.141px;font-weight:400;color:#333;">••••••••••</span>
<span class="t" style="left:191.80px;top:437px;font-size:3.542px;font-weight:700;color:#333;">New Password</span>
<span class="t" style="left:196.20px;top:447px;font-size:3.811px;font-weight:400;color:#a0a0a6;">Enter your new password</span>
<span class="t" style="left:191.80px;top:460px;font-size:3.518px;font-weight:700;color:#333;">Re-type Password</span>
<span class="t" style="left:196.20px;top:470px;font-size:3.805px;font-weight:400;color:#a0a0a6;">Re-type new password</span>
<span class="t" style="left:226.00px;top:486px;font-size:3.750px;font-weight:400;color:#fff;">Update Password</span>
<span class="t" style="left:44.40px;top:593px;font-size:7.560px;font-weight:400;color:#7f8387;">Admin_Admin Dashboard (Users)_delete user</span>
<span class="t" style="left:62.20px;top:612px;font-size:2.600px;font-weight:700;color:#5a44b4;">Bharati vastu academy</span>
<span class="t" style="left:62.20px;top:615px;font-size:2.585px;font-weight:400;color:#9a80c8;">Thing trug unity dell sait</span>
<span class="t" style="left:107.00px;top:611px;font-size:1.874px;font-weight:700;color:#3346a8;">Sr. Sadhana Davidu</span>
<span class="t" style="left:108.70px;top:613px;font-size:1.993px;font-weight:700;color:#4a5ab8;">Nigamit 3 Vellaiam</span>
<span class="t" style="left:145.00px;top:613px;font-size:3.761px;font-weight:400;color:#666;">Dashboard</span>
<span class="t" style="left:175.00px;top:613px;font-size:3.768px;font-weight:400;color:#5a2486;">User Management</span>
<span class="t" style="left:217.00px;top:613px;font-size:3.821px;font-weight:400;color:#666;">Export Entries</span>
<span class="t" style="left:298.60px;top:610px;font-size:3.488px;font-weight:700;color:#2a2a2a;">Thomas Anree</span>
<span class="t" style="left:298.60px;top:615px;font-size:3.320px;font-weight:400;color:#9a9aa0;">thomas@example.com</span>
<span class="t" style="left:62.00px;top:631px;font-size:6.126px;font-weight:700;color:#2a2a30;">Dashboard</span>
<span class="t" style="left:294.80px;top:633px;font-size:3.768px;font-weight:400;color:#4a4a50;">User Management</span>
<span class="t" style="left:328.60px;top:633px;font-size:3.700px;font-weight:400;color:#4a4a50;">/</span>
<span class="t" style="left:332.00px;top:633px;font-size:3.700px;font-weight:400;color:#3a2a7a;">Edit user</span>
<span class="t" style="left:576.30px;top:617px;font-size:9.000px;font-weight:400;color:#2e2e2e;letter-spacing:0.28px;">Adobe Media Encoder</span>
</div></body></html>
